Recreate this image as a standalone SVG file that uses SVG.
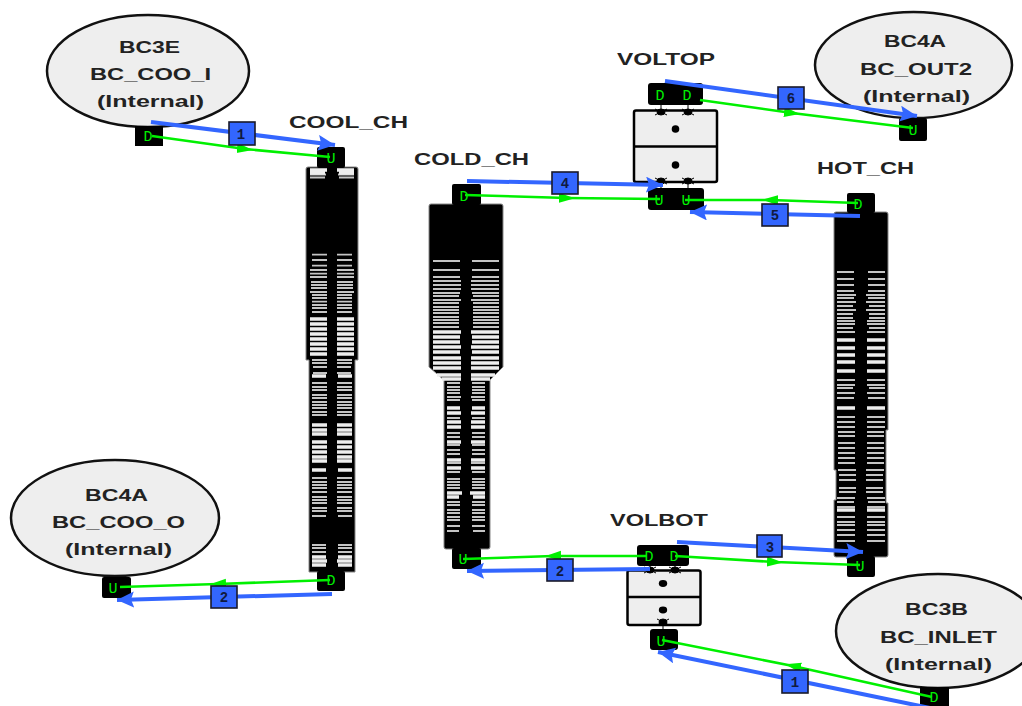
<svg xmlns="http://www.w3.org/2000/svg" xmlns:xlink="http://www.w3.org/1999/xlink" width="1022" height="706" viewBox="0 0 1022 706">
<style>
text{font-family:"Liberation Sans",Arial,sans-serif;font-weight:bold;fill:#222;font-size:16px}
.bc{fill:#eeeeee;stroke:#111;stroke-width:2.5}
.blk{fill:#000;stroke:#888;stroke-width:1}
.tab{fill:#000}
.vol{fill:#eeeeee;stroke:#000;stroke-width:2.5}
.thin{fill:none;stroke:#c4c4c4;stroke-width:1.8}
.lite{fill:none;stroke:#eeeeee;stroke-width:3.6}
.blue{fill:none;stroke:#3366ff;stroke-width:4}
.green{fill:none;stroke:#00f000;stroke-width:2.6}
.badge{fill:#3366ff;stroke:#1a1a2a;stroke-width:1.6}
text.num{font-family:"Liberation Mono",monospace;font-size:14px;fill:#101a40;text-anchor:middle}
text.port{font-family:"Liberation Mono",monospace;font-size:15px;font-weight:normal;fill:#00f000;text-anchor:middle}
</style>
<defs>
<marker id="ah" markerUnits="userSpaceOnUse" markerWidth="20" markerHeight="18" refX="17" refY="8" orient="auto"><path d="M0 0L17 8L0 16L3 8Z" fill="#3366ff"/></marker>
<marker id="gm" markerUnits="userSpaceOnUse" markerWidth="18" markerHeight="12" refX="8" refY="5" orient="auto"><path d="M0 0L16 5L0 10Z" fill="#00f000"/></marker>
<g id="cool-l">
<path class="thin" d="M310 174.5h16M310 177.5h15M312 254.7h15M312 260h15M312 265.7h15M310 270h17M310 273.7h17M310 277h17M311 282h16M311 285h16M311 288h16M310 292h17M312 295h15M312 298h15M312 301.7h15M312 305h15M312 308h15M312 312h15M312 360h15M312 363h15M313 367h14M313 373h14M312 383h15M312 387h15M312 390h15M312 395h15M312 398h15M312 402h15M312 405h15M312 408h15M312 412h15M312 415h15M312 478h15M312 482h15M312 485h15M312 488h15M312 492h15M312 497h15M312 500h15M312 503h15M312 508h15M312 511h15M312 516h14M312 545h14M312 548h14M312 552h14"/>
<path class="lite" d="M310 170h17M310 173h15M310 319h17M310 324h17M310 329h17M310 334h17M310 339h17M310 344h17M310 349h17M310 354h17M312 376h14M312 425h15M312 430h15M312 434h15M312 442h15M312 447h15M312 452h15M312 457h15M312 461h15M312 470h14M312 557h14M312 561h15M312 565h14"/>
</g>
<g id="cold-l">
<path class="thin" d="M433 261h27M433 270h27M433 277h27M433 281h28M433 285h28M433 289h28M433 293h27M433 296h26M433 300h28M433 303h26M433 307h26M433 310h26M433 313h26M433 317h26M433 320h26M433 323h26M433 327h26M447 383h13M447 387h13M447 390h13M447 393h13M447 397h14M447 400h13M447 418h13M447 433h13M447 437h13M447 445h13M447 450h13M447 454h13M447 463h14M447 472h13M447 479h13M447 482h13M447 485h13M447 488h13M447 502h13M447 505h13M447 510h13M447 513h13M447 517h13M447 520h13M447 526h13M447 531h12"/>
<path class="lite" d="M433 332h28M433 337h27M433 342h27M433 347h28M433 352h27M433 358h28M433 363h28M433 368h28M437 375h24M442 379h19M447 408h13M447 413h14M447 422h14M447 427h14M447 442h14M447 460h14M447 468h14M447 493h15M447 497h12"/>
</g>
<g id="hot-l">
<path class="thin" d="M837 272h17M837 279h17M837 285h17M837 291h17M837 295h19M837 298h17M837 302h19M837 306h16M837 310h19M837 314h16M837 318h16M837 321h18M837 324h18M837 328h16M837 332h18M837 380h18M837 385h18M837 388h16M837 393h18M837 398h17M837 417h18M837 422h18M837 427h18M838 432h17M838 436h17M838 443h17M838 448h17M838 453h17M838 458h17M838 463h17M838 470h18M839 475h17M839 480h17M839 488h17M839 492h17M837 498h18M837 502h17M837 507h18M837 517h18M837 522h18M837 525h18M837 530h18M837 535h18M837 541h18"/>
<path class="lite" d="M837 340h18M837 348h18M837 355h18M837 362h18M837 371h18M837 408h18M837 510h18"/>
</g>
</defs>

<g id="BC3E">
<ellipse class="bc" cx="148" cy="71" rx="101" ry="56"/>
<rect class="tab" x="135" y="126" width="28" height="20"/>
<text x="119" y="53" textLength="61" lengthAdjust="spacingAndGlyphs">BC3E</text>
<text x="90" y="80" textLength="121" lengthAdjust="spacingAndGlyphs">BC_COO_I</text>
<text x="97" y="107" textLength="107" lengthAdjust="spacingAndGlyphs">(Internal)</text>
<text class="port" x="148" y="141">D</text>
</g>

<g id="COOL_CH">
<path class="blk" d="M308 167H356Q358 167 358 169V360H355V572H309V360H306V169Q306 167 308 167Z"/>
<rect class="tab" x="317" y="147" width="28" height="21" rx="2"/>
<rect class="tab" x="317" y="571" width="28" height="20" rx="2"/>
<use xlink:href="#cool-l" href="#cool-l"/>
<use xlink:href="#cool-l" href="#cool-l" transform="translate(664,0) scale(-1,1)"/>
<text x="289" y="128" textLength="119" lengthAdjust="spacingAndGlyphs">COOL_CH</text>
<text class="port" x="331" y="163">U</text>
<text class="port" x="331" y="585">D</text>
</g>

<g id="COLD_CH">
<path class="blk" d="M431 204H501Q503 204 503 206V367L490 380V547Q490 549 488 549H446Q444 549 444 547V380L429 367V206Q429 204 431 204Z"/>
<rect class="tab" x="452" y="184" width="29" height="21" rx="2"/>
<rect class="tab" x="452" y="548" width="29" height="21" rx="2"/>
<use xlink:href="#cold-l" href="#cold-l"/>
<use xlink:href="#cold-l" href="#cold-l" transform="translate(932,0) scale(-1,1)"/>
<text x="414" y="165" textLength="115" lengthAdjust="spacingAndGlyphs">COLD_CH</text>
<text class="port" x="464" y="201">D</text>
<text class="port" x="463" y="564">U</text>
</g>

<g id="HOT_CH">
<path class="blk" d="M836 212H886Q888 212 888 214V430H886V503H888V555Q888 557 886 557H836Q834 557 834 555V500H836V470H834V214Q834 212 836 212Z"/>
<rect class="tab" x="847" y="193" width="28" height="20" rx="2"/>
<rect class="tab" x="847" y="556" width="28" height="21" rx="2"/>
<use xlink:href="#hot-l" href="#hot-l"/>
<use xlink:href="#hot-l" href="#hot-l" transform="translate(1722,0) scale(-1,1)"/>
<text x="817" y="174" textLength="97" lengthAdjust="spacingAndGlyphs">HOT_CH</text>
<text class="port" x="858" y="209">D</text>
<text class="port" x="860" y="571">U</text>
</g>

<g id="VOLTOP">
<rect class="vol" x="634" y="110.500" width="83" height="71.500" rx="2"/>
<path d="M634 146.500H717" stroke="#000" stroke-width="2.500"/>
<circle cx="675.500" cy="129" r="3.800"/>
<circle cx="675.500" cy="165" r="3.800"/>
<rect class="tab" x="648" y="83" width="55" height="22" rx="3"/>
<rect class="tab" x="648" y="188" width="56" height="22" rx="3"/>
<g fill="#000" stroke="#000" stroke-width="1">
<ellipse cx="661" cy="112" rx="4" ry="3"/><ellipse cx="688" cy="112" rx="4" ry="3"/>
<ellipse cx="661" cy="181" rx="4" ry="3"/><ellipse cx="688" cy="181" rx="4" ry="3"/>
<path fill="none" d="M661 105V112M688 105V112M655 115L667 109M655 109L667 115M682 115L694 109M682 109L694 115M661 181V188M688 181V188M655 184L667 178M655 178L667 184M682 184L694 178M682 178L694 184"/>
</g>
<text x="617" y="65" textLength="98" lengthAdjust="spacingAndGlyphs">VOLTOP</text>
<text class="port" x="660" y="100">D</text>
<text class="port" x="687" y="100">D</text>
<text class="port" x="659" y="205">U</text>
<text class="port" x="686" y="205">U</text>
</g>

<g id="VOLBOT">
<rect class="vol" x="627.500" y="570.500" width="73" height="54.500" rx="2"/>
<path d="M627.500 597H700.500" stroke="#000" stroke-width="2.500"/>
<ellipse cx="663" cy="583.500" rx="4.200" ry="3.400"/>
<ellipse cx="663" cy="610" rx="4.200" ry="3.400"/>
<rect class="tab" x="637" y="545" width="52" height="21" rx="3"/>
<rect class="tab" x="650" y="629" width="28" height="21" rx="3"/>
<g fill="#000" stroke="#000" stroke-width="1">
<ellipse cx="650" cy="570" rx="4" ry="3"/><ellipse cx="675" cy="570" rx="4" ry="3"/>
<ellipse cx="663" cy="622" rx="4" ry="3"/>
<path fill="none" d="M650 565V570M675 565V570M644 573L656 567M644 567L656 573M669 573L681 567M669 567L681 573M663 622V629M657 625L669 619M657 619L669 625"/>
</g>
<text x="610" y="526" textLength="98" lengthAdjust="spacingAndGlyphs">VOLBOT</text>
<text class="port" x="649" y="561">D</text>
<text class="port" x="674" y="561">D</text>
<text class="port" x="661" y="646">U</text>
</g>

<g id="BC4A_COO">
<ellipse class="bc" cx="115" cy="518" rx="104" ry="58"/>
<rect class="tab" x="102" y="577" width="29" height="21" rx="2"/>
<text x="85" y="501" textLength="63" lengthAdjust="spacingAndGlyphs">BC4A</text>
<text x="52" y="528" textLength="133" lengthAdjust="spacingAndGlyphs">BC_COO_O</text>
<text x="65" y="555" textLength="107" lengthAdjust="spacingAndGlyphs">(Internal)</text>
<text class="port" x="113" y="593">U</text>
</g>

<g id="BC4A_OUT2">
<ellipse class="bc" cx="913.500" cy="65" rx="98.500" ry="53"/>
<rect class="tab" x="899" y="118" width="28" height="23" rx="2"/>
<text x="884" y="47" textLength="62" lengthAdjust="spacingAndGlyphs">BC4A</text>
<text x="860" y="75" textLength="112" lengthAdjust="spacingAndGlyphs">BC_OUT2</text>
<text x="863" y="102" textLength="107" lengthAdjust="spacingAndGlyphs">(Internal)</text>
<text class="port" x="913" y="135">U</text>
</g>

<g id="BC3B">
<ellipse class="bc" cx="938" cy="631" rx="102" ry="57"/>
<rect class="tab" x="920" y="687" width="29" height="19"/>
<text x="905" y="615" textLength="63" lengthAdjust="spacingAndGlyphs">BC3B</text>
<text x="880" y="643" textLength="117" lengthAdjust="spacingAndGlyphs">BC_INLET</text>
<text x="885" y="670" textLength="107" lengthAdjust="spacingAndGlyphs">(Internal)</text>
<text class="port" x="934" y="702">D</text>
</g>

<g id="connectors">
<path class="blue" marker-end="url(#ah)" d="M151 122L335 145"/>
<path class="green" marker-mid="url(#gm)" d="M152 136L245 149L330 157"/>
<path class="blue" marker-end="url(#ah)" d="M332 594L117 600"/>
<path class="green" marker-mid="url(#gm)" d="M330 580L218 584L120 587"/>
<path class="blue" marker-end="url(#ah)" d="M467 181L663 185"/>
<path class="green" marker-mid="url(#gm)" d="M465 195L567 198L660 199"/>
<path class="blue" marker-end="url(#ah)" d="M860 216L690 212"/>
<path class="green" marker-mid="url(#gm)" d="M858 203L770 200L685 200"/>
<path class="blue" marker-end="url(#ah)" d="M665 81L917 116"/>
<path class="green" marker-mid="url(#gm)" d="M700 100L792 113L913 128"/>
<path class="blue" marker-end="url(#ah)" d="M650 569L467 571"/>
<path class="green" marker-mid="url(#gm)" d="M647 556L553 556L463 559"/>
<path class="blue" marker-end="url(#ah)" d="M677 542L863 552"/>
<path class="green" marker-mid="url(#gm)" d="M675 556L775 562L860 565"/>
<path class="blue" marker-end="url(#ah)" d="M930 708L658 652"/>
<path class="green" marker-mid="url(#gm)" d="M932 697L793 666L662 640"/>
<g>
<rect class="badge" x="229" y="122" width="26" height="23"/><text class="num" x="241" y="139">1</text>
<rect class="badge" x="211" y="586" width="26" height="22"/><text class="num" x="224" y="602">2</text>
<rect class="badge" x="552" y="172" width="26" height="22"/><text class="num" x="565" y="188">4</text>
<rect class="badge" x="762" y="204" width="26" height="22"/><text class="num" x="775" y="220">5</text>
<rect class="badge" x="778" y="87" width="26" height="22"/><text class="num" x="791" y="103">6</text>
<rect class="badge" x="547" y="559" width="26" height="22"/><text class="num" x="560" y="576">2</text>
<rect class="badge" x="757" y="535" width="25" height="22"/><text class="num" x="770" y="552">3</text>
<rect class="badge" x="782" y="670" width="26" height="23"/><text class="num" x="795" y="687">1</text>
</g>
</g>
</svg>
